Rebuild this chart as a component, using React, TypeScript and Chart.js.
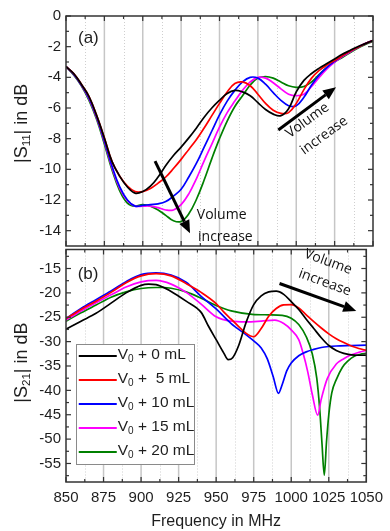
import React, { useEffect, useRef } from "react";
import { Chart, registerables } from "chart.js";
Chart.register(...registerables);

const FONT = "'Liberation Sans', Arial, sans-serif";
const NOTE_FONT = "'Open Sans', 'Liberation Sans', sans-serif";
const TEXT = "#1e1e1e";

// ---------- data ----------
const seriesNames = ["0", " 5", "10", "15", "20"];
const seriesColors = ["#000000", "#ff0000", "#0000ff", "#ff00ff", "#008000"];

const xMajor = [850, 875, 900, 925, 950, 975, 1000, 1025, 1050];
const xMinor = [862.5, 887.5, 912.5, 937.5, 962.5, 987.5, 1012.5, 1037.5];

const yTicksA = [0, -2, -4, -6, -8, -10, -12, -14];
const yMinorA = [-1, -3, -5, -7, -9, -11, -13];
const yTicksB = [-15, -20, -25, -30, -35, -40, -45, -50, -55];
const yMinorB = [-12.5, -17.5, -22.5, -27.5, -32.5, -37.5, -42.5, -47.5, -52.5, -57.5];

// Panel (a): |S11|, shared frequency grid
const freqA = [850, 855, 860, 865, 870, 875, 880, 885, 890, 895, 900, 905, 910, 915, 920, 925, 930, 935, 940, 945, 950, 955, 960, 965, 970, 975, 980, 985, 990, 995, 1000, 1005, 1010, 1015, 1020, 1025, 1030, 1035, 1040, 1045, 1050];
const s11_v0 = [-3.3, -3.75, -4.45, -5.25, -6.5, -7.95, -9.5, -10.45, -11.15, -11.55, -11.45, -11.1, -10.5, -9.75, -9.1, -8.55, -7.95, -7.3, -6.6, -6.0, -5.5, -5.05, -4.85, -4.95, -5.2, -5.65, -6.1, -6.4, -6.5, -6.05, -4.95, -4.2, -3.75, -3.4, -3.1, -2.8, -2.5, -2.25, -2.0, -1.8, -1.6];
const s11_v5 = [-3.3, -3.75, -4.45, -5.25, -6.5, -7.95, -9.5, -10.45, -11.1, -11.45, -11.45, -11.25, -10.9, -10.5, -9.95, -9.35, -8.7, -8.05, -7.3, -6.5, -5.7, -4.95, -4.4, -4.3, -4.55, -5.1, -5.7, -6.15, -6.35, -6.3, -5.7, -4.8, -4.05, -3.55, -3.2, -2.9, -2.6, -2.3, -2.05, -1.8, -1.6];
const s11_v10 = [-3.3, -3.8, -4.5, -5.35, -6.6, -8.15, -9.8, -11.15, -12.0, -12.4, -12.35, -12.3, -12.25, -12.1, -11.75, -11.3, -10.5, -9.6, -8.55, -7.5, -6.45, -5.55, -4.85, -4.3, -4.0, -4.05, -4.45, -5.0, -5.5, -5.85, -5.85, -5.3, -4.5, -3.85, -3.35, -2.95, -2.6, -2.3, -2.05, -1.8, -1.6];
const s11_v15 = [-3.3, -3.8, -4.5, -5.4, -6.65, -8.2, -9.9, -11.25, -12.05, -12.4, -12.4, -12.4, -12.5, -12.65, -12.65, -12.3, -11.6, -10.6, -9.45, -8.35, -7.25, -6.3, -5.55, -4.85, -4.3, -4.0, -4.05, -4.35, -4.75, -5.1, -5.2, -5.1, -4.6, -4.0, -3.45, -3.0, -2.65, -2.35, -2.05, -1.8, -1.6];
const s11_v20 = [-3.3, -3.85, -4.55, -5.5, -6.75, -8.35, -10.05, -11.4, -12.2, -12.4, -12.3, -12.4, -12.65, -13.0, -13.35, -13.4, -12.9, -11.95, -10.7, -9.3, -8.0, -6.85, -5.9, -5.2, -4.5, -4.05, -3.95, -4.05, -4.3, -4.55, -4.65, -4.6, -4.3, -3.8, -3.35, -3.0, -2.7, -2.4, -2.1, -1.85, -1.65];

// Panel (b): |S21|, each series on its own frequency list (denser near the notches)
const f21_v0 = [850, 860, 870, 880, 890, 900, 905, 910, 920, 930, 940, 945, 950, 955, 958, 961, 965, 970, 975, 980, 985, 990, 995, 1000, 1005, 1010, 1015, 1020, 1025, 1030, 1035, 1040, 1045, 1050];
const s21_v0 = [-27.45, -25.8, -24.2, -22.1, -20.0, -18.45, -18.2, -18.3, -19.7, -21.7, -24.0, -26.9, -29.6, -32.3, -33.7, -33.3, -30.8, -26.0, -22.4, -20.6, -19.8, -19.65, -20.3, -21.8, -23.4, -25.4, -27.3, -29.2, -30.8, -31.8, -32.4, -32.7, -32.8, -32.8];
const f21_v5 = [850, 860, 870, 880, 890, 900, 910, 920, 930, 940, 950, 955, 960, 965, 970, 975, 980, 985, 990, 995, 1000, 1005, 1010, 1015, 1020, 1025, 1030, 1035, 1040, 1045, 1050];
const s21_v5 = [-25.3, -23.4, -21.7, -19.9, -17.9, -16.5, -16.05, -16.5, -18.1, -19.9, -22.2, -23.9, -25.4, -26.9, -28.3, -29.0, -27.3, -24.8, -23.2, -22.45, -22.4, -23.1, -24.5, -25.9, -27.2, -28.4, -29.4, -30.2, -30.9, -31.4, -31.8];
const f21_v10 = [850, 860, 870, 880, 890, 900, 910, 920, 930, 940, 950, 960, 970, 976, 980, 984, 988, 991.5, 994, 997, 1000, 1005, 1010, 1015, 1020, 1025, 1030, 1040, 1050];
const s21_v10 = [-25.25, -23.2, -21.4, -19.6, -17.7, -16.25, -15.9, -16.35, -17.8, -20.7, -23.3, -26.3, -28.6, -30.1, -31.3, -33.5, -37.2, -40.6, -38.8, -36.0, -34.4, -32.9, -32.1, -31.6, -31.2, -31.0, -30.9, -30.8, -30.7];
const f21_v15 = [850, 860, 870, 880, 890, 900, 910, 920, 930, 940, 950, 960, 970, 980, 989, 995, 1000, 1005, 1008, 1011, 1014, 1017.6, 1020, 1024, 1030, 1035, 1040, 1045, 1050];
const s21_v15 = [-25.6, -23.7, -22.0, -20.4, -18.8, -17.75, -17.45, -18.2, -19.9, -22.3, -24.9, -25.8, -25.95, -25.8, -25.6, -26.3, -27.6, -29.6, -32.5, -36.2, -40.8, -45.1, -41.8, -37.6, -34.6, -33.5, -32.7, -32.2, -31.8];
const f21_v20 = [850, 860, 870, 880, 890, 900, 910, 915, 920, 930, 940, 950, 960, 974, 985, 994, 1000, 1005, 1010, 1014, 1017, 1019, 1020.5, 1022, 1023.5, 1025, 1027, 1030, 1034, 1038, 1042, 1046, 1050];
const s21_v20 = [-25.8, -24.1, -22.5, -20.9, -19.8, -19.1, -18.9, -18.9, -19.05, -19.8, -21.1, -22.6, -23.7, -24.4, -24.5, -24.6, -25.2, -26.5, -29.0, -32.5, -37.5, -44.0, -51.0, -57.4, -50.5, -45.0, -40.5, -37.8, -35.3, -33.9, -33.0, -32.6, -32.4];

// ---------- helpers ----------
type Part = [string, boolean];

function partsWidth(ctx: CanvasRenderingContext2D, parts: Part[], size: number, subSize: number, family: string) {
  let w = 0;
  for (const [t, sub] of parts) {
    ctx.font = `${sub ? subSize : size}px ${family}`;
    w += ctx.measureText(t).width;
  }
  return w;
}

function drawParts(ctx: CanvasRenderingContext2D, parts: Part[], x: number, y: number, size: number, subSize: number, family: string, align: "left" | "center") {
  const w = partsWidth(ctx, parts, size, subSize, family);
  let cx = align === "center" ? x - w / 2 : x;
  ctx.textAlign = "left";
  ctx.textBaseline = "middle";
  for (const [t, sub] of parts) {
    ctx.font = `${sub ? subSize : size}px ${family}`;
    ctx.fillText(t, cx, sub ? y + size * 0.28 : y);
    cx += ctx.measureText(t).width;
  }
}

function drawArrow(ctx: CanvasRenderingContext2D, x0: number, y0: number, x1: number, y1: number) {
  const ang = Math.atan2(y1 - y0, x1 - x0);
  const head = 13, half = 5.5;
  const bx = x1 - head * Math.cos(ang), by = y1 - head * Math.sin(ang);
  ctx.strokeStyle = "#000";
  ctx.lineWidth = 3;
  ctx.beginPath();
  ctx.moveTo(x0, y0);
  ctx.lineTo(bx, by);
  ctx.stroke();
  ctx.fillStyle = "#000";
  ctx.beginPath();
  ctx.moveTo(x1, y1);
  ctx.lineTo(bx + half * Math.sin(ang), by - half * Math.cos(ang));
  ctx.lineTo(bx - half * Math.sin(ang), by + half * Math.cos(ang));
  ctx.closePath();
  ctx.fill();
}

type Note = { text: string; at: [number, number]; rot: number; align: "left" | "center" };
type Panel = {
  id: string;
  tag: string;
  tagAt: [number, number];
  yMinor: number[];
  yTitle: Part[];
  yTitleAt: number;
  arrows: [[number, number], [number, number]][];
  notes: Note[];
  legend: null | { x0: number; x1: number; y0: number; y1: number };
};

function decorPlugin(p: Panel) {
  return {
    id: "decor" + p.id,
    beforeDatasetsDraw(chart: any) {
      const { ctx, chartArea: ca, scales } = chart;
      const x = scales.x;
      ctx.save();
      ctx.strokeStyle = "#cfcfcf";
      ctx.lineWidth = 1;
      ctx.setLineDash([1, 2]);
      for (const v of xMinor) {
        const px = Math.round(x.getPixelForValue(v)) + 0.5;
        ctx.beginPath();
        ctx.moveTo(px, ca.top);
        ctx.lineTo(px, ca.bottom);
        ctx.stroke();
      }
      ctx.setLineDash([]);
      ctx.strokeStyle = "#c6c6c6";
      ctx.lineWidth = 1.5;
      for (const v of xMajor) {
        if (v <= 850 || v >= 1050) continue;
        const px = x.getPixelForValue(v);
        ctx.beginPath();
        ctx.moveTo(px, ca.top);
        ctx.lineTo(px, ca.bottom);
        ctx.stroke();
      }
      ctx.restore();
    },
    afterDatasetsDraw(chart: any) {
      const { ctx, chartArea: ca, scales } = chart;
      const x = scales.x, y = scales.y;
      ctx.save();
      // frame
      ctx.strokeStyle = "#333";
      ctx.lineWidth = 1.5;
      ctx.strokeRect(ca.left, ca.top, ca.right - ca.left, ca.bottom - ca.top);
      // inward ticks
      ctx.lineWidth = 1.2;
      const tick = (x0: number, y0: number, x1: number, y1: number) => {
        ctx.beginPath();
        ctx.moveTo(x0, y0);
        ctx.lineTo(x1, y1);
        ctx.stroke();
      };
      for (const v of xMajor) {
        const px = x.getPixelForValue(v);
        tick(px, ca.top, px, ca.top + 5);
        tick(px, ca.bottom, px, ca.bottom - 5);
      }
      for (const v of xMinor) {
        const px = x.getPixelForValue(v);
        tick(px, ca.top, px, ca.top + 3);
        tick(px, ca.bottom, px, ca.bottom - 3);
      }
      for (const t of y.ticks) {
        const py = y.getPixelForValue(t.value);
        tick(ca.left, py, ca.left + 5, py);
        tick(ca.right, py, ca.right - 5, py);
      }
      for (const v of p.yMinor) {
        if (v <= y.min || v >= y.max) continue;
        const py = y.getPixelForValue(v);
        tick(ca.left, py, ca.left + 3, py);
        tick(ca.right, py, ca.right - 3, py);
      }
      // panel tag
      ctx.fillStyle = TEXT;
      ctx.font = `17px ${FONT}`;
      ctx.textAlign = "left";
      ctx.textBaseline = "middle";
      ctx.fillText(p.tag, x.getPixelForValue(p.tagAt[0]), y.getPixelForValue(p.tagAt[1]));
      // arrows
      for (const [a, b] of p.arrows) {
        drawArrow(ctx, x.getPixelForValue(a[0]), y.getPixelForValue(a[1]), x.getPixelForValue(b[0]), y.getPixelForValue(b[1]));
      }
      // notes
      ctx.fillStyle = "#111";
      ctx.font = `14px ${NOTE_FONT}`;
      for (const n of p.notes) {
        ctx.save();
        ctx.translate(x.getPixelForValue(n.at[0]), y.getPixelForValue(n.at[1]));
        ctx.rotate((n.rot * Math.PI) / 180);
        ctx.textAlign = n.align;
        ctx.textBaseline = "middle";
        ctx.fillText(n.text, 0, 0);
        ctx.restore();
      }
      // legend
      if (p.legend) {
        const L = p.legend;
        const lx0 = x.getPixelForValue(L.x0), lx1 = x.getPixelForValue(L.x1);
        const ly0 = y.getPixelForValue(L.y0), ly1 = y.getPixelForValue(L.y1);
        ctx.fillStyle = "#fff";
        ctx.fillRect(lx0, ly0, lx1 - lx0, ly1 - ly0);
        ctx.strokeStyle = "#8a8a8a";
        ctx.lineWidth = 1;
        ctx.strokeRect(Math.round(lx0) + 0.5, Math.round(ly0) + 0.5, Math.round(lx1 - lx0), Math.round(ly1 - ly0));
        const rowH = (ly1 - ly0) / seriesNames.length;
        seriesNames.forEach((name, i) => {
          const cy = ly0 + rowH * (i + 0.5);
          ctx.strokeStyle = seriesColors[i];
          ctx.lineWidth = 2;
          ctx.beginPath();
          ctx.moveTo(lx0 + 3, cy);
          ctx.lineTo(lx0 + 41, cy);
          ctx.stroke();
          ctx.fillStyle = TEXT;
          drawParts(ctx, [["V", false], ["0", true], [` + ${name} mL`, false]], lx0 + 42, cy - 1, 15.5, 10, FONT, "left");
        });
      }
      // y title
      ctx.fillStyle = TEXT;
      ctx.save();
      ctx.translate(22, y.getPixelForValue(p.yTitleAt));
      ctx.rotate(-Math.PI / 2);
      drawParts(ctx, p.yTitle, 0, 0, 18, 11.5, FONT, "center");
      ctx.restore();
      ctx.restore();
    },
  };
}

const panelA: Panel = {
  id: "a",
  tag: "(a)",
  tagAt: [857.8, -1.45],
  yMinor: yMinorA,
  yTitle: [["|S", false], ["11", true], ["| in dB", false]],
  yTitleAt: -7.0,
  arrows: [
    [[908, -9.46], [930.8, -14.17]],
    [[988.3, -7.43], [1025.9, -4.64]],
  ],
  notes: [
    { text: "Volume", at: [935.2, -13.0], rot: 0, align: "left" },
    { text: "increase", at: [936, -14.42], rot: 0, align: "left" },
    { text: "Volume", at: [1007.3, -6.81], rot: -36, align: "center" },
    { text: "increase", at: [1018.1, -7.8], rot: -36, align: "center" },
  ],
  legend: null,
};

const panelB: Panel = {
  id: "b",
  tag: "(b)",
  tagAt: [857.8, -16.27],
  yMinor: yMinorB,
  yTitle: [["|S", false], ["21", true], ["| in dB", false]],
  yTitleAt: -34.3,
  arrows: [[[992.2, -18.08], [1043.3, -23.7]]],
  notes: [
    { text: "Volume", at: [1024.6, -13.65], rot: 20, align: "center" },
    { text: "increase", at: [1022.4, -17.87], rot: 20, align: "center" },
  ],
  legend: { x0: 856.5, x1: 935.3, y0: -30.5, y1: -55.1 },
};

function pairs(fs: number[], vs: number[]) {
  return fs.map((f, i) => ({ x: f, y: vs[i] }));
}

function makeConfig(panel: Panel, sets: { x: number; y: number }[][], yMin: number, yMax: number, yTicks: number[], showX: boolean, pad: any, smooth: "monotone" | "tension"): any {
  return {
    type: "line",
    data: {
      datasets: sets.map((d, i) => ({
        label: `V0 + ${seriesNames[i]} mL`,
        data: d,
        borderColor: seriesColors[i],
        backgroundColor: seriesColors[i],
        borderWidth: 1.7,
        pointRadius: 0,
        cubicInterpolationMode: smooth === "monotone" ? "monotone" : "default",
        tension: smooth === "monotone" ? 0 : 0.4,
        fill: false,
      })),
    },
    options: {
      animation: false,
      responsive: false,
      maintainAspectRatio: false,
      layout: { padding: pad },
      plugins: { legend: { display: false }, tooltip: { enabled: false } },
      scales: {
        x: showX
          ? {
              type: "linear",
              min: 850,
              max: 1050,
              grid: { display: false, drawTicks: false },
              border: { display: false },
              afterBuildTicks: (s: any) => {
                s.ticks = xMajor.map((v) => ({ value: v }));
              },
              afterFit: (s: any) => {
                s.height = 49;
              },
              ticks: {
                font: { family: FONT, size: 15 },
                color: TEXT,
                padding: 7,
                maxRotation: 0,
                autoSkip: false,
                callback: (v: any) => String(v),
              },
              title: { display: true, text: "Frequency in MHz", font: { family: FONT, size: 16 }, color: TEXT, padding: 0 },
            }
          : { type: "linear", min: 850, max: 1050, display: false },
        y: {
          type: "linear",
          min: yMin,
          max: yMax,
          grid: { display: false, drawTicks: false },
          border: { display: false },
          afterBuildTicks: (s: any) => {
            s.ticks = yTicks.map((v) => ({ value: v }));
          },
          afterFit: (s: any) => {
            s.width = 66;
          },
          ticks: { font: { family: FONT, size: 15 }, color: TEXT, padding: 5, callback: (v: any) => String(v) },
        },
      },
    },
    plugins: [decorPlugin(panel)],
  };
}

export default function App() {
  const refA = useRef<HTMLCanvasElement>(null);
  const refB = useRef<HTMLCanvasElement>(null);
  useEffect(() => {
    const setsA = [s11_v0, s11_v5, s11_v10, s11_v15, s11_v20].map((v) => pairs(freqA, v));
    const setsB = [
      pairs(f21_v0, s21_v0),
      pairs(f21_v5, s21_v5),
      pairs(f21_v10, s21_v10),
      pairs(f21_v15, s21_v15),
      pairs(f21_v20, s21_v20),
    ];
    const a = new Chart(refA.current!, makeConfig(panelA, setsA, -15, 0, yTicksA, false, { top: 16, right: 17, bottom: 10.5, left: 0 }, "tension"));
    const b = new Chart(refB.current!, makeConfig(panelB, setsB, -58.8, -11.1, yTicksB, true, { top: 20.5, right: 17, bottom: 0, left: 0 }, "monotone"));
    return () => {
      a.destroy();
      b.destroy();
    };
  }, []);
  return (
    <div style={{ position: "absolute", left: 0, top: 0, width: 390, height: 531, background: "#fff" }}>
      <canvas ref={refA} width={390} height={260} style={{ position: "absolute", left: 0, top: 0, width: 390, height: 260 }} />
      <canvas ref={refB} width={390} height={302} style={{ position: "absolute", left: 0, top: 229, width: 390, height: 302 }} />
    </div>
  );
}
